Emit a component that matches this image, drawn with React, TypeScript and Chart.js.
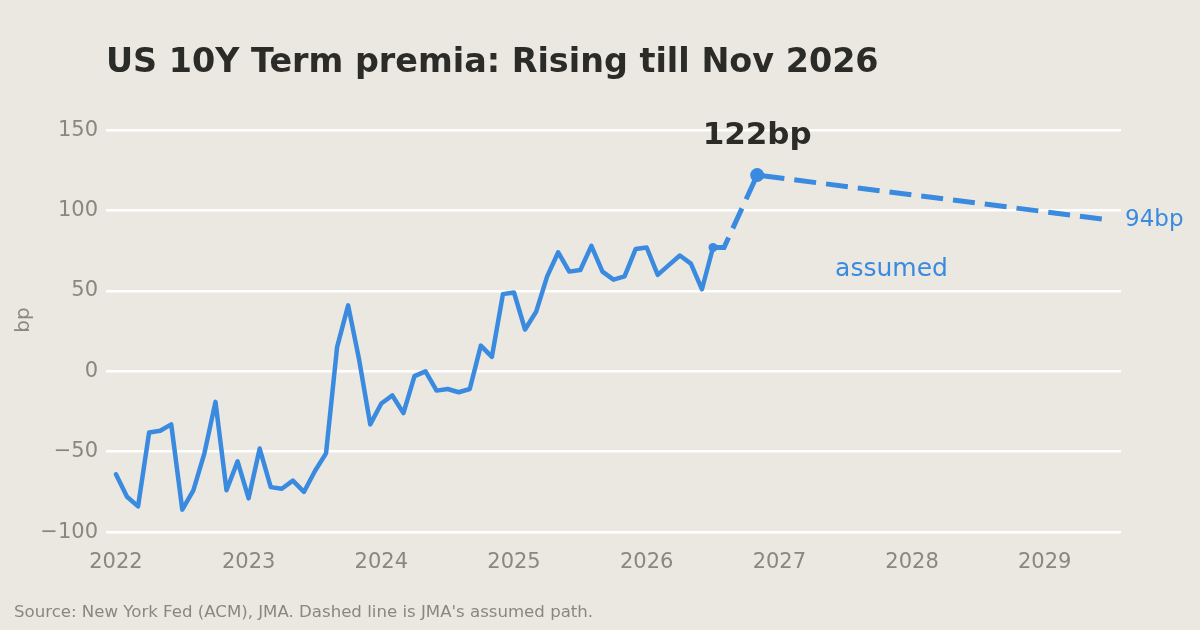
import { useEffect, useRef } from 'react';
import { Chart, registerables } from 'chart.js';

Chart.register(...registerables);

// monthly observations, Jan 2022 .. Jul 2026 (bp)
const START_YEAR = 2022;
const termPremia = [
  -64, -78, -84, -38, -37, -33, -86, -74, -51, -19, -74, -56,
  -79, -48, -72, -73, -68, -75, -62, -51, 15, 41, 7, -33,
  -20, -15, -26, -3, 0, -12, -11, -13, -11, 16, 9, 48,
  49, 26, 37, 59, 74, 62, 63, 78, 62, 57, 59, 76,
  77, 60, 66, 72, 67, 51, 77,
];

// JMA assumed path
const pathDates = [2026.5, 2026.583, 2026.833, 2029.5];
const pathValues = [77, 77, 122, 94];

const xTicks = [2022, 2023, 2024, 2025, 2026, 2027, 2028, 2029];
const yTicks = [-100, -50, 0, 50, 100, 150];

const BG = '#ebe8e1';
const BLUE = '#3a8ae0';
const GRAY = '#8a877f';
const DARK = '#2b2b28';
const FONT = "'DejaVu Sans', sans-serif";

const annotations = {
  id: 'annotations',
  beforeDraw(chart: Chart) {
    const { ctx, width, height } = chart;
    ctx.save();
    ctx.fillStyle = BG;
    ctx.fillRect(0, 0, width, height);
    ctx.restore();
  },
  afterDraw(chart: Chart) {
    const { ctx } = chart;
    const x = chart.scales.x;
    const y = chart.scales.y;
    ctx.save();
    ctx.textBaseline = 'alphabetic';

    ctx.fillStyle = DARK;
    ctx.font = `bold 33.4px ${FONT}`;
    ctx.textAlign = 'left';
    ctx.fillText('US 10Y Term premia: Rising till Nov 2026', 106, 72);

    ctx.fillStyle = GRAY;
    ctx.font = `16.6px ${FONT}`;
    ctx.fillText("Source: New York Fed (ACM), JMA. Dashed line is JMA's assumed path.", 14, 617);

    ctx.save();
    ctx.translate(24, 320);
    ctx.rotate(-Math.PI / 2);
    ctx.textAlign = 'center';
    ctx.textBaseline = 'middle';
    ctx.font = `20px ${FONT}`;
    ctx.fillText('bp', 0, 0);
    ctx.restore();

    const peakX = x.getPixelForValue(pathDates[2]);
    const peakY = y.getPixelForValue(pathValues[2]);
    ctx.fillStyle = DARK;
    ctx.font = `bold 31px ${FONT}`;
    ctx.textAlign = 'center';
    ctx.fillText(`${pathValues[2]}bp`, peakX, peakY - 31);

    const endX = x.getPixelForValue(pathDates[3]);
    const endY = y.getPixelForValue(pathValues[3]);
    ctx.fillStyle = BLUE;
    ctx.font = `23px ${FONT}`;
    ctx.textAlign = 'left';
    ctx.textBaseline = 'middle';
    ctx.fillText(`${pathValues[3]}bp`, endX + 14, endY);

    ctx.font = `25px ${FONT}`;
    ctx.fillText('assumed', x.getPixelForValue(2027.42), y.getPixelForValue(63));
    ctx.restore();
  },
};

export default function App() {
  const ref = useRef<HTMLCanvasElement>(null);
  const chartRef = useRef<Chart | null>(null);

  useEffect(() => {
    if (!ref.current) return;
    document.body.style.margin = '0';
    document.body.style.background = BG;

    const history = termPremia.map((v, i) => ({ x: START_YEAR + i / 12, y: v }));
    const path = pathDates.map((d, i) => ({ x: d, y: pathValues[i] }));

    chartRef.current?.destroy();
    chartRef.current = new Chart(ref.current, {
      type: 'line',
      data: {
        datasets: [
          {
            data: history,
            borderColor: BLUE,
            backgroundColor: BLUE,
            borderWidth: 4.5,
            borderJoinStyle: 'round',
            borderCapStyle: 'round',
            pointRadius: (c: any) => (c.dataIndex === termPremia.length - 1 ? 4.5 : 0),
            pointBorderWidth: 0,
            tension: 0,
          },
          {
            data: path,
            borderColor: BLUE,
            backgroundColor: BLUE,
            borderWidth: 5,
            borderDash: [22, 10],
            borderCapStyle: 'butt',
            pointRadius: (c: any) => (c.dataIndex === 2 ? 7 : 0),
            pointBorderWidth: 0,
            tension: 0,
          },
        ],
      },
      options: {
        responsive: false,
        animation: false,
        layout: { padding: { top: 114, right: 79, left: 0, bottom: 0 } },
        plugins: { legend: { display: false }, tooltip: { enabled: false } },
        scales: {
          x: {
            type: 'linear',
            min: 2021.925,
            max: 2029.575,
            afterBuildTicks: (s: any) => { s.ticks = xTicks.map((v) => ({ value: v })); },
            afterFit: (s: any) => { s.height = 85; },
            grid: { display: false },
            border: { display: false },
            ticks: { color: GRAY, font: { family: FONT, size: 21 }, padding: -3, callback: (v: any) => String(v) },
          },
          y: {
            min: -108,
            max: 160,
            afterBuildTicks: (s: any) => { s.ticks = yTicks.map((v) => ({ value: v })); },
            afterFit: (s: any) => { s.width = 106; },
            grid: { color: '#ffffff', lineWidth: 2.5, drawTicks: false },
            border: { display: false },
            ticks: {
              color: GRAY,
              font: { family: FONT, size: 21 },
              padding: 8,
              callback: (v: any) => String(v).replace('-', '\u2212'),
            },
          },
        },
      },
      plugins: [annotations],
    });
    return () => { chartRef.current?.destroy(); };
  }, []);

  return (
    <div style={{ width: 1200, height: 630, background: BG }}>
      <canvas ref={ref} width={1200} height={630} style={{ display: 'block' }} />
    </div>
  );
}
